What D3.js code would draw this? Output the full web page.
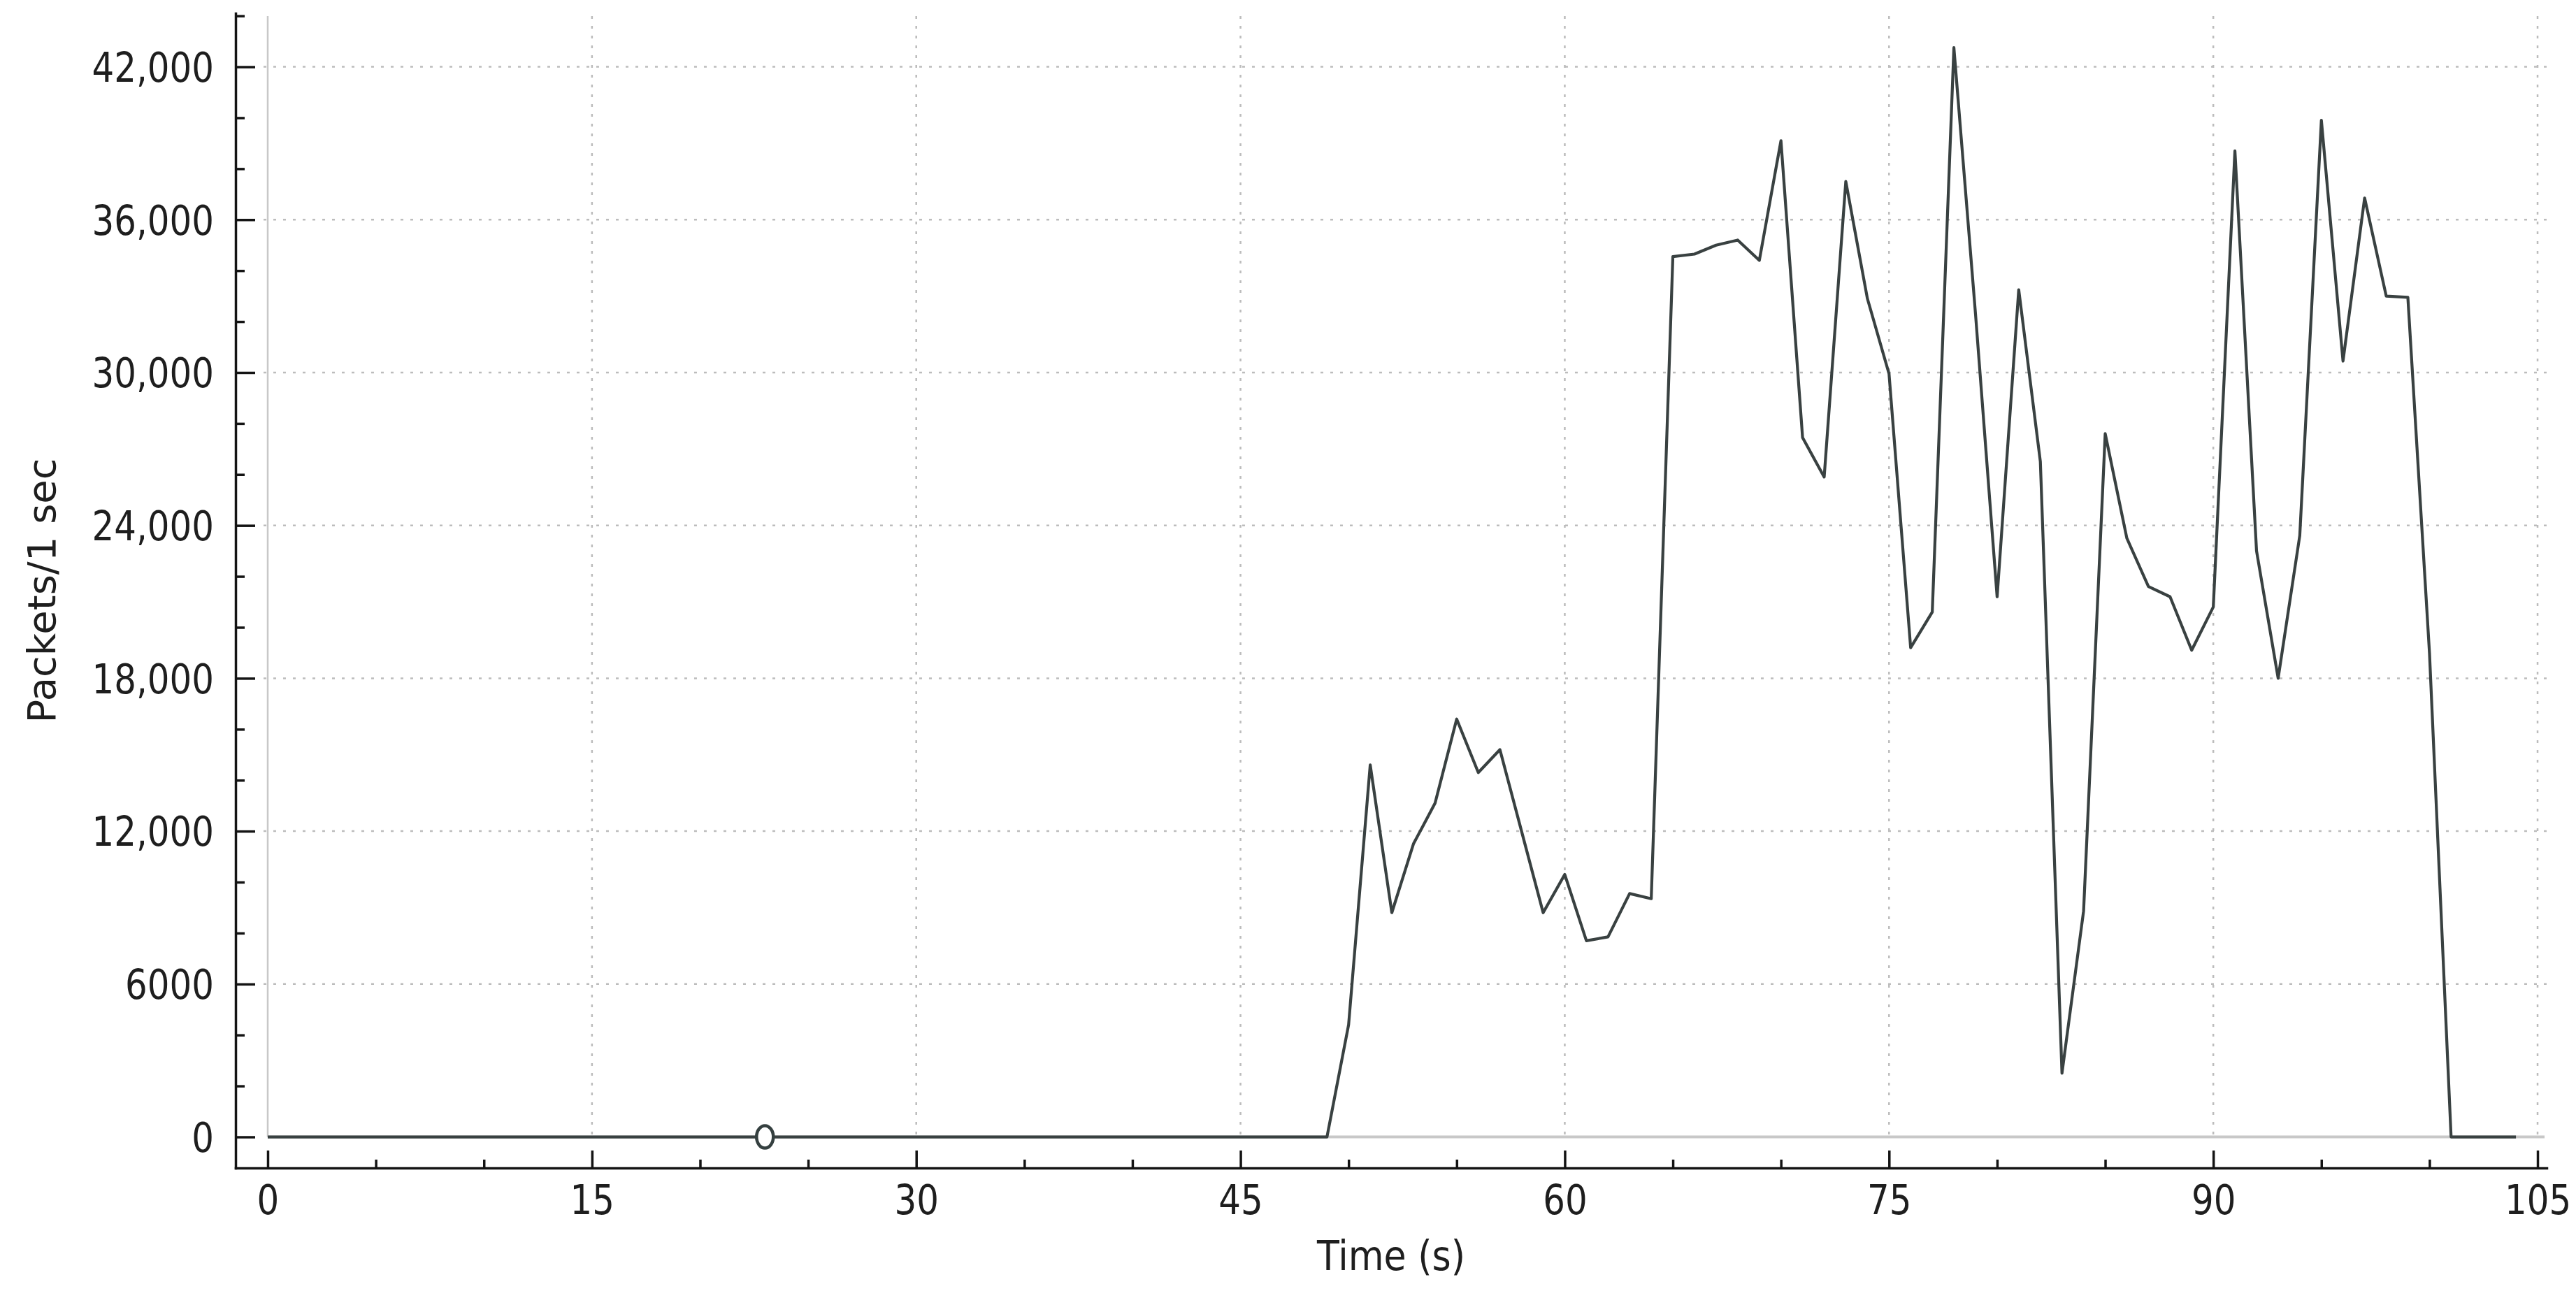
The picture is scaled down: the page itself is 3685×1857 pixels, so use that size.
<!DOCTYPE html>
<html>
<head>
<meta charset="utf-8">
<script src="https://cdn.jsdelivr.net/npm/d3@7"></script>
<style>
html,body{margin:0;padding:0;background:#fff;}
svg{display:block;}
text{font-family:"DejaVu Sans","Noto Sans",sans-serif;}
</style>
</head>
<body>
<svg id="chart" width="3685" height="1857"></svg>
<script>
// ---------------- DATA ----------------
const timeSec = [
  0,1,2,3,4,5,6,7,8,9,10,11,12,13,14,15,16,17,18,19,20,21,22,23,24,25,26,27,28,29,
  30,31,32,33,34,35,36,37,38,39,40,41,42,43,44,45,46,47,48,49,50,51,52,53,54,55,56,57,58,59,
  60,61,62,63,64,65,66,67,68,69,70,71,72,73,74,75,76,77,78,79,80,81,82,83,84,85,86,87,88,89,
  90,91,92,93,94,95,96,97,98,99,100,101,102,103,104
];
const packetsPerSec = [
  0,0,0,0,0,0,0,0,0,0,0,0,0,0,0,0,0,0,0,0,0,0,0,0,0,0,0,0,0,0,
  0,0,0,0,0,0,0,0,0,0,0,0,0,0,0,0,0,0,0,0,4400,14600,8800,11500,13100,16400,14300,15200,12000,8800,
  10300,7700,7850,9550,9350,34550,34650,35000,35200,34400,39100,27450,25900,37500,32900,29950,19200,20600,42750,32300,
  21200,33250,26500,2500,8870,27600,23500,21600,21200,19100,
  20800,38700,23000,18000,23600,39900,30450,36850,33000,32950,19000,0,0,0,0
];
const markerTime = [23];
const markerValue = [0];

const xTicks = [0,15,30,45,60,75,90,105];
const xTickLabels = ["0","15","30","45","60","75","90","105"];
const xMinorTicks = [5,10,20,25,35,40,50,55,65,70,80,85,95,100];
const yTicks = [0,6000,12000,18000,24000,30000,36000,42000];
const yTickLabels = ["0","6000","12,000","18,000","24,000","30,000","36,000","42,000"];
const yMinorTicks = [2000,4000,8000,10000,14000,16000,20000,22000,26000,28000,32000,34000,38000,40000,44000];
const xTitle = "Time (s)";
const yTitle = "Packets/1 sec";

// ---------------- CHART ----------------
const svg = d3.select("#chart");
const x = d3.scaleLinear().domain([-1.487, 105.42]).range([337, 3643]);
const y = d3.scaleLinear().domain([-1220, 44100]).range([1671, 19]);

const textColor = "#1e1e1e";
const axisColor = "#141414";
const gridColor = "#bcbcbc";

// grid lines
const grid = svg.append("g");
grid.selectAll("line.hg").data(yTicks.filter(v => v !== 0)).join("line")
  .attr("class","hg")
  .attr("x1", x(0) - 6).attr("x2", x.range()[1])
  .attr("y1", d => y(d)).attr("y2", d => y(d))
  .attr("stroke", gridColor).attr("stroke-width", 2.5)
  .attr("stroke-dasharray", "4 10");
grid.selectAll("line.vg").data(xTicks.filter(v => v !== 0)).join("line")
  .attr("class","vg")
  .attr("x1", d => x(d)).attr("x2", d => x(d))
  .attr("y1", y.range()[1] + 4).attr("y2", y(0))
  .attr("stroke", gridColor).attr("stroke-width", 2.5)
  .attr("stroke-dasharray", "4 10");
// zero lines
grid.append("line")
  .attr("x1", x(0)).attr("x2", x(0))
  .attr("y1", y.range()[1] + 4).attr("y2", y(0))
  .attr("stroke", "#c8c8c8").attr("stroke-width", 2.5);
grid.append("line")
  .attr("x1", x(0)).attr("x2", x.range()[1] - 3)
  .attr("y1", y(0)).attr("y2", y(0))
  .attr("stroke", "#c8c8c8").attr("stroke-width", 4);

// data line
const pts = timeSec.map((t, i) => [t, packetsPerSec[i]]);
svg.append("path")
  .datum(pts)
  .attr("fill", "none")
  .attr("stroke", "#394141")
  .attr("stroke-width", 4.2)
  .attr("stroke-linejoin", "round")
  .attr("d", d3.line().x(d => x(d[0])).y(d => y(d[1])));

// marker
svg.selectAll("ellipse.mk").data(markerTime.map((t, i) => [t, markerValue[i]])).join("ellipse")
  .attr("class","mk")
  .attr("cx", d => x(d[0])).attr("cy", d => y(d[1]))
  .attr("rx", 12).attr("ry", 16)
  .attr("fill", "#fff").attr("stroke", "#354040").attr("stroke-width", 4.5);

// axes
function styleAxis(g) {
  g.attr("font-size", null).attr("font-family", null);
  g.selectAll("path.domain").attr("stroke", axisColor).attr("stroke-width", 3.5).attr("stroke-linecap","square");
  g.selectAll(".tick line").attr("stroke", axisColor).attr("stroke-width", 3.5);
  g.selectAll(".tick text").attr("fill", textColor).attr("font-size", 58);
}

const yAxisG = svg.append("g").attr("transform", "translate(337,0)")
  .call(d3.axisLeft(y).tickValues(yTicks).tickFormat((d, i) => yTickLabels[i])
        .tickSize(-28).tickSizeOuter(0).tickPadding(31));
styleAxis(yAxisG);
yAxisG.selectAll(".tick text").attr("x", 0).attr("dy", "0.36em")
  .attr("transform", "translate(-31,0) scale(0.86,1)");

const yMinorG = svg.append("g").attr("transform", "translate(337,0)")
  .call(d3.axisLeft(y).tickValues(yMinorTicks).tickFormat("").tickSize(-13));
yMinorG.select("path.domain").remove();
styleAxis(yMinorG);

const xAxisG = svg.append("g").attr("transform", "translate(0,1671)")
  .call(d3.axisBottom(x).tickValues(xTicks).tickFormat((d, i) => xTickLabels[i])
        .tickSize(-25).tickSizeOuter(0).tickPadding(25));
styleAxis(xAxisG);
xAxisG.selectAll(".tick text").attr("transform", "scale(0.86,1)");

const xMinorG = svg.append("g").attr("transform", "translate(0,1671)")
  .call(d3.axisBottom(x).tickValues(xMinorTicks).tickFormat("").tickSize(-12));
xMinorG.select("path.domain").remove();
styleAxis(xMinorG);

// titles
svg.append("text")
  .attr("transform", `translate(${(x.range()[0] + x.range()[1]) / 2},1817) scale(0.9,1)`)
  .attr("text-anchor", "middle")
  .attr("font-size", 58)
  .attr("fill", textColor)
  .text(xTitle);

svg.append("text")
  .attr("transform", "translate(79,845) rotate(-90)")
  .attr("text-anchor", "middle")
  .attr("font-size", 56)
  .attr("fill", textColor)
  .text(yTitle);
</script>
</body>
</html>
